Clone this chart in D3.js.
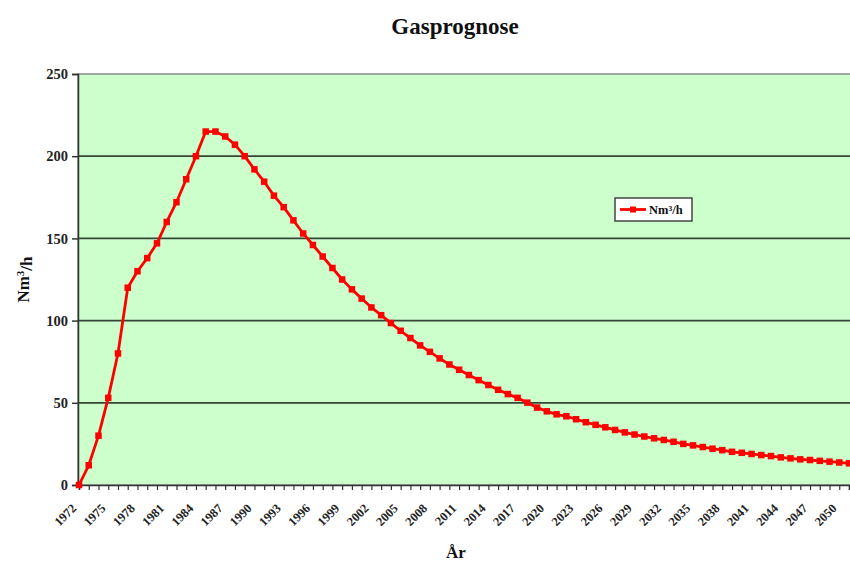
<!DOCTYPE html>
<html>
<head>
<meta charset="utf-8">
<script src="https://cdn.jsdelivr.net/npm/d3@7"></script>
<style>
  html, body { margin: 0; padding: 0; background: #fff; }
  svg { display: block; }
  text { font-family: "Liberation Serif", "Times New Roman", serif; font-weight: bold; }
</style>
</head>
<body>
<svg id="chart" width="850" height="561"></svg>
<script>
// ---- data ----
const firstYear = 1972;
const lastYear = 2051;
const values = [
  0, 12, 30, 53, 80, 120, 130, 138, 147, 160, 172, 186, 200, 215, 215, 212, 207, 200, 192, 184.5,
  176, 169, 161, 153, 146, 139, 132, 125,
  119, 113.4, 108, 103.3, 98.5, 93.8, 89.4, 84.9, 81, 77, 73.3, 70.1, 66.9, 63.8, 60.8, 57.9, 55.3, 53, 50.1, 47.1, 44.8,
  43, 41.8, 40, 38.2, 36.6, 35.1, 33.5, 32, 30.7, 29.5, 28.4, 27.4, 26.3, 25, 24.1, 23.1, 22.1, 21.2, 20.2, 19.6,
  18.9, 18.2, 17.6, 16.8, 16.2, 15.6, 15.2, 14.7, 14.2, 13.7, 13.2
];
const years = d3.range(firstYear, lastYear + 1);
const yTicks = [0, 50, 100, 150, 200, 250];
const xLabelYears = d3.range(1972, 2051, 3);
const seriesName = "Nm³/h";
const titleText = "Gasprognose";
const xTitle = "År";

const data = years.map((y, i) => ({ year: y, value: values[i] }));

// ---- layout ----
const svg = d3.select("#chart");
const L = 78, R = 849, T = 74, B = 485;

const x = d3.scaleLinear().domain([firstYear, lastYear]).range([L + 1, R]);
const y = d3.scaleLinear().domain([0, 250]).range([B, T]);

// plot background
svg.append("rect")
  .attr("x", L).attr("y", T)
  .attr("width", 860 - L).attr("height", B - T)
  .attr("fill", "#CCFFCC")
  .attr("stroke", "#8a8a8a").attr("stroke-width", 1.5);

// gridlines
svg.append("g").selectAll("line")
  .data(yTicks.filter(v => v > 0 && v < 250))
  .join("line")
  .attr("x1", L).attr("x2", 860)
  .attr("y1", d => y(d)).attr("y2", d => y(d))
  .attr("stroke", "#344634").attr("stroke-width", 1.7);

// y axis
const yAxis = d3.axisLeft(y).tickValues(yTicks).tickSize(6).tickPadding(4).tickFormat(d3.format("d"));
const gy = svg.append("g").attr("transform", `translate(${L},0)`).call(yAxis);
gy.select(".domain").attr("stroke", "#333").attr("stroke-width", 1.5);
gy.selectAll(".tick line").attr("stroke", "#333").attr("stroke-width", 1.5);
gy.selectAll(".tick text")
  .attr("font-family", "Liberation Serif, serif")
  .attr("font-weight", "bold")
  .attr("font-size", 14.5).attr("fill", "#222");

// x axis ticks (every year)
const xAxis = d3.axisBottom(x).tickValues(years).tickSize(5).tickFormat("");
const gx = svg.append("g").attr("transform", `translate(0,${B})`).call(xAxis);
gx.select(".domain").attr("stroke", "#333").attr("stroke-width", 1.5);
gx.selectAll(".tick line").attr("stroke", "#333").attr("stroke-width", 1.2);

// x labels every 3 years
svg.append("g").selectAll("text")
  .data(xLabelYears)
  .join("text")
  .attr("transform", d => `translate(${x(d) - 5},${B + 21}) rotate(-45)`)
  .attr("text-anchor", "end")
  .attr("dy", "0.35em")
  .attr("font-size", 12.5)
  .attr("fill", "#222")
  .text(d => d);

// line
const line = d3.line().x(d => x(d.year)).y(d => y(d.value));
svg.append("path")
  .datum(data)
  .attr("fill", "none")
  .attr("stroke", "#ff0000")
  .attr("stroke-width", 2.8)
  .attr("stroke-linejoin", "round")
  .attr("d", line);

// markers
const ms = 6.5;
svg.append("g").selectAll("rect")
  .data(data)
  .join("rect")
  .attr("x", d => x(d.year) - ms / 2)
  .attr("y", d => y(d.value) - ms / 2)
  .attr("width", ms).attr("height", ms)
  .attr("fill", "#ff0000");

// title
svg.append("text")
  .attr("x", 455).attr("y", 34)
  .attr("text-anchor", "middle")
  .attr("font-size", 23).attr("fill", "#111")
  .text(titleText);

// y title
const yt = svg.append("text")
  .attr("transform", `translate(29,${(T + B) / 2}) rotate(-90)`)
  .attr("text-anchor", "middle")
  .attr("font-size", 17).attr("fill", "#111");
yt.append("tspan").text("Nm");
yt.append("tspan").attr("dy", "-0.5em").attr("font-size", 11).text("3");
yt.append("tspan").attr("dy", "0.5em").text("/h");

// x title
svg.append("text")
  .attr("x", 456).attr("y", 558)
  .attr("text-anchor", "middle")
  .attr("font-size", 17).attr("fill", "#111")
  .text(xTitle);

// legend
const lg = svg.append("g").attr("transform", "translate(615,198)");
lg.append("rect").attr("width", 77).attr("height", 23)
  .attr("fill", "#fff").attr("stroke", "#444").attr("stroke-width", 1.5);
lg.append("line").attr("x1", 5).attr("x2", 31).attr("y1", 11.5).attr("y2", 11.5)
  .attr("stroke", "#ff0000").attr("stroke-width", 2.8);
lg.append("rect").attr("x", 15).attr("y", 8.5).attr("width", 6).attr("height", 6).attr("fill", "#ff0000");
lg.append("text").attr("x", 34).attr("y", 16)
  .attr("font-size", 12.5).attr("fill", "#111").text(seriesName);
</script>
</body>
</html>
